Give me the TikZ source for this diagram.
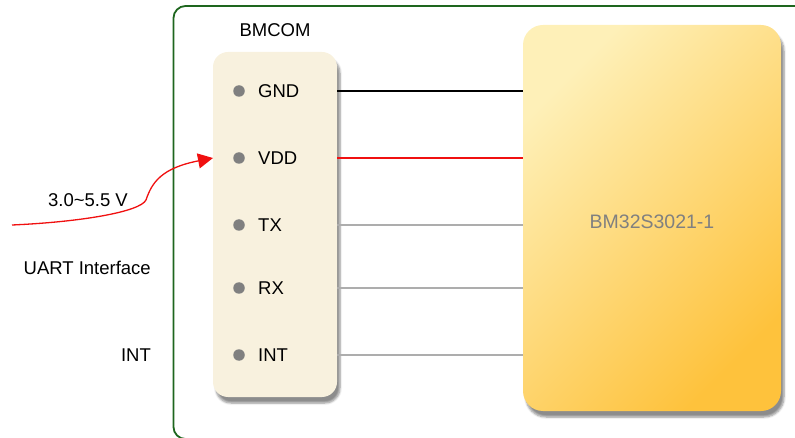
\documentclass[tikz,border=0pt]{standalone}
\usepackage{fontspec}
\setmainfont{Liberation Sans}
\usepackage{tikz}
\usetikzlibrary{arrows.meta,positioning,calc,shadows.blur}
\definecolor{framegreen}{HTML}{1E661E}
\definecolor{boxcream}{HTML}{F8F1DE}
\definecolor{pingray}{HTML}{808080}
\definecolor{wiregray}{HTML}{ADADAD}
\definecolor{chiplight}{HTML}{FEF0B8}
\definecolor{chipdark}{HTML}{FEC23C}
\definecolor{wirered}{HTML}{F01010}

\begin{document}
\begin{tikzpicture}[x=1pt,y=-1pt,>=Latex,
  font=\fontsize{18.5}{20}\selectfont,
  modbox/.style={rounded corners=15pt,fill=boxcream,
    blur shadow={shadow xshift=3pt,shadow yshift=-6pt,shadow blur steps=6,shadow opacity=45}},
  chipbox/.style={rounded corners=20pt,top color=chiplight,bottom color=chipdark,shading angle=45,
    blur shadow={shadow xshift=3pt,shadow yshift=-6pt,shadow blur steps=6,shadow opacity=45}},
  pindot/.style={circle,fill=pingray,inner sep=0pt,minimum size=11.5pt},
  pinname/.style={anchor=west,inner sep=0pt},
  sidelabel/.style={anchor=east,inner sep=0pt}]
  \useasboundingbox (0,0) rectangle (795,438);
  % Frame
  \draw[framegreen,line width=1.8pt,rounded corners=12pt] (173.5,6) rectangle (820,439);
  % Module and chip
  \path[modbox] (213,52) rectangle (337,397);
  \coordinate (bmcomW) at (213,224);
  \coordinate (bmcomE) at (337,224);
  \node (bmcom) at (275,30) {BMCOM};
  \path[chipbox] (523,25) rectangle (781,411);
  \coordinate (chipW) at (523,218);
  \node[text=pingray,font=\fontsize{19.5}{21}\selectfont] (chip) at (652,222) {BM32S3021-1};
  % Pins
  \foreach \name/\txt/\y in {gnd/GND/91,vdd/VDD/158,tx/TX/225,rx/RX/288,int/INT/355} {
    \node[pindot] (\name) at (239,\y) {};
    \node[pinname] (\name txt) at (258,\y) {\txt};
  }
  % Wires
  \draw[line width=1.3pt,black] (bmcomE |- gnd) -- (chipW |- gnd);
  \draw[line width=1.3pt,wirered] (bmcomE |- vdd) -- (chipW |- vdd);
  \foreach \name in {tx,rx,int}
    \draw[line width=1.3pt,wiregray] (bmcomE |- \name) -- (chipW |- \name);
  % Supply
  \coordinate (vin) at (12,225);
  \draw[wirered,line width=1.3pt,-{Triangle[length=15pt,width=15pt]}]
    (vin) .. controls (80,222) and (140,212) .. (146,200)
    .. controls (152,182) and (162,168) .. (bmcomW |- vdd);
  \node[sidelabel] (vlbl) at (128,200) {3.0\char`~5.5 V};
  \node[sidelabel] (uart) at (151,268) {UART Interface};
  \node[sidelabel] (intlbl) at (151,355) {INT};
\end{tikzpicture}
\end{document}
